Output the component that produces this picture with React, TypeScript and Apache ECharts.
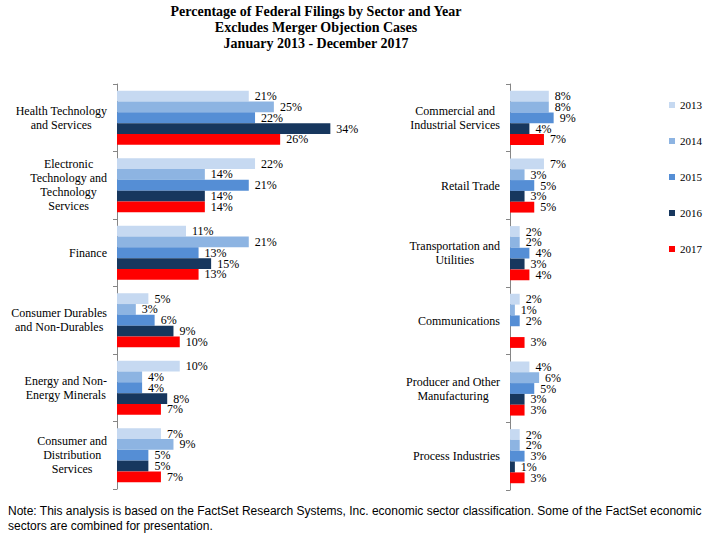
import React, { useEffect, useRef } from "react";
import * as echarts from "echarts";

const years = ["2013", "2014", "2015", "2016", "2017"];
const colors = ["#C6D9F1", "#8DB4E2", "#558ED5", "#17375E", "#FF0000"];

const leftCategories = [
  "Health Technology\nand Services",
  "Electronic\nTechnology and\nTechnology\nServices",
  "Finance",
  "Consumer Durables\nand Non-Durables",
  "Energy and Non-\nEnergy Minerals",
  "Consumer and\nDistribution\nServices",
];
const rightCategories = [
  "Commercial and\nIndustrial Services",
  "Retail Trade",
  "Transportation and\nUtilities",
  "Communications",
  "Producer and Other\nManufacturing",
  "Process Industries",
];

const left2013 = [21, 22, 11, 5, 10, 7];
const left2014 = [25, 14, 21, 3, 4, 9];
const left2015 = [22, 21, 13, 6, 4, 5];
const left2016 = [34, 14, 15, 9, 8, 5];
const left2017 = [26, 14, 13, 10, 7, 7];

const right2013 = [8, 7, 2, 2, 4, 2];
const right2014 = [8, 3, 2, 1, 6, 2];
const right2015 = [9, 5, 4, 2, 5, 3];
const right2016: (number | null)[] = [4, 3, 3, null, 3, 1];
const right2017 = [7, 5, 4, 3, 3, 3];

const leftData = [left2013, left2014, left2015, left2016, left2017];
const rightData = [right2013, right2014, right2015, right2016, right2017];

const title =
  "Percentage of Federal Filings by Sector and Year\nExcludes Merger Objection Cases\nJanuary 2013 - December 2017";
const note =
  "Note: This analysis is based on the FactSet Research Systems, Inc. economic sector classification. Some of the FactSet economic\nsectors are combined for presentation.";

const serif = "Liberation Serif";

export default function App() {
  const ref = useRef<HTMLDivElement>(null);
  useEffect(() => {
    document.body.style.margin = "0";
    const chart = echarts.init(ref.current!, null, { renderer: "svg" });
    const catLabel = {
      fontFamily: serif,
      fontSize: 12,
      color: "#000",
      lineHeight: 14,
      margin: 10,
      formatter: (v: string) =>
        v
          .split("\n")
          .map((l) => `{c|${l}}`)
          .join("\n"),
      rich: { c: { align: "center", fontFamily: serif, fontSize: 12, color: "#000", lineHeight: 14 } },
    };
    const yAxisBase = {
      type: "category",
      inverse: true,
      axisLine: { show: true, lineStyle: { color: "#868686" } },
      axisTick: { show: true, length: 4, lineStyle: { color: "#868686" } },
      axisLabel: catLabel,
    };
    const xAxisBase = {
      type: "value",
      min: 0,
      max: 40,
      show: false,
      splitLine: { show: false },
    };
    const mkSeries = (data: (number | null)[][], idx: number) =>
      data.map((d, i) => ({
        name: years[i],
        type: "bar",
        xAxisIndex: idx,
        yAxisIndex: idx,
        data: d.map((v) => (v === null ? "-" : v)),
        barGap: "0%",
        barCategoryGap: "20%",
        itemStyle: { color: colors[i] },
        label: {
          show: true,
          position: "right",
          distance: 6,
          formatter: "{c}%",
          fontFamily: serif,
          fontSize: 12,
          lineHeight: 10,
          color: "#000",
        },
      }));
    chart.setOption({
      animation: false,
      title: {
        text: title,
        left: 316,
        top: 3,
        padding: 0,
        textAlign: "center",
        textStyle: {
          fontFamily: serif,
          fontWeight: "bold",
          fontSize: 14,
          lineHeight: 16,
          color: "#000",
        },
      },
      legend: {
        orient: "vertical",
        left: 664,
        top: 93,
        icon: "rect",
        itemWidth: 6,
        itemHeight: 6,
        itemGap: 22,
        data: years,
        textStyle: { fontFamily: serif, fontSize: 11, color: "#000", lineHeight: 14 },
      },
      grid: [
        { left: 117, top: 84, width: 251, height: 405 },
        { left: 510, top: 84, width: 194, height: 406 },
      ],
      xAxis: [
        { ...xAxisBase, gridIndex: 0 },
        { ...xAxisBase, gridIndex: 1 },
      ],
      yAxis: [
        { ...yAxisBase, gridIndex: 0, data: leftCategories },
        { ...yAxisBase, gridIndex: 1, data: rightCategories },
      ],
      series: [...mkSeries(leftData, 0), ...mkSeries(rightData, 1)],
      graphic: [
        {
          type: "text",
          left: 8,
          top: 503,
          style: {
            text: note,
            fontFamily: "Liberation Sans",
            fontSize: 12,
            lineHeight: 15,
            fill: "#000",
          },
        },
      ],
    });
    return () => chart.dispose();
  }, []);
  return <div ref={ref} style={{ width: 715, height: 544 }} />;
}
